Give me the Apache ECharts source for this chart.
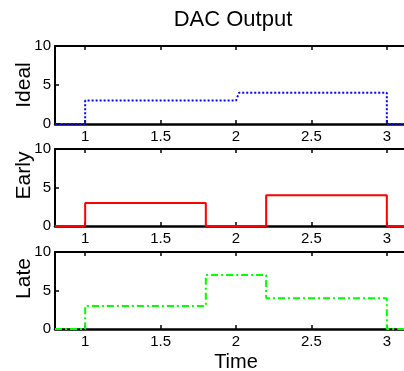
<!DOCTYPE html>
<html>
<head>
<meta charset="utf-8">
<script src="https://cdn.jsdelivr.net/npm/echarts@6/dist/echarts.min.js"></script>
<style>
  html, body {margin: 0; padding: 0; background: #fff;}
  #chart {width: 404px; height: 371px;}
</style>
</head>
<body>
<div id="chart"></div>
<script>
// step outputs of the DAC, as corner points
const idealTime = [0.8, 1, 1, 2, 2.02, 3, 3, 3.2]
const idealValue = [0, 0, 3, 3, 4, 4, 0, 0]
const earlyTime = [0.8, 1, 1, 1.8, 1.8, 2.2, 2.2, 3, 3, 3.2]
const earlyValue = [0, 0, 3, 3, 0, 0, 4, 4, 0, 0]
const lateTime = [0.8, 1, 1, 1.8, 1.8, 2.2, 2.2, 3, 3, 3.2]
const lateValue = [0, 0, 3, 3, 7, 7, 4, 4, 0, 0]
const xTicks = [1, 1.5, 2, 2.5, 3]
const yTicks = [0, 5, 10]
const panelNames = ['Ideal', 'Early', 'Late']

const font = 'Liberation Sans, Arial, Helvetica, sans-serif'
const grids = [
  {left: 55, top: 46, width: 362, height: 78, outerBoundsMode: 'none', containLabel: false},
  {left: 55, top: 149, width: 362, height: 77, outerBoundsMode: 'none', containLabel: false},
  {left: 55, top: 252, width: 362, height: 77, outerBoundsMode: 'none', containLabel: false},
]

const zip = (xs, ys) => xs.map((x, i) => [x, ys[i]])

const xAxes = []
const yAxes = []
grids.forEach((g, i) => {
  const isLast = i === grids.length - 1
  xAxes.push({
    type: 'value', gridIndex: i, position: 'bottom', min: 0.8, max: 3.2,
    axisLine: {onZero: false, lineStyle: {color: '#000', width: 2.5}},
    axisTick: {inside: true, length: 4, customValues: xTicks, lineStyle: {color: '#000', width: 1.5}},
    axisLabel: {customValues: xTicks, color: '#000', fontSize: 15, fontFamily: font, margin: 5},
    splitLine: {show: false},
    name: isLast ? 'Time' : '',
    nameLocation: 'middle', nameGap: 23, nameMoveOverlap: false,
    nameTextStyle: {color: '#000', fontSize: 20, fontFamily: font},
  })
  xAxes.push({
    type: 'value', gridIndex: i, position: 'top', min: 0.8, max: 3.2,
    axisLine: {onZero: false, lineStyle: {color: '#000', width: 2}},
    axisTick: {inside: true, length: 4, customValues: xTicks, lineStyle: {color: '#000', width: 1.5}},
    axisLabel: {show: false},
    splitLine: {show: false},
  })
  yAxes.push({
    type: 'value', gridIndex: i, position: 'left', min: 0, max: 10,
    axisLine: {show: true, onZero: false, lineStyle: {color: '#000', width: 2}},
    axisTick: {show: true, inside: true, length: 4, customValues: yTicks, lineStyle: {color: '#000', width: 1.5}},
    axisLabel: {customValues: yTicks, color: '#000', fontSize: 15, fontFamily: font, margin: 4},
    splitLine: {show: false},
    name: panelNames[i],
    nameLocation: 'middle', nameGap: 20, nameRotate: 90, nameMoveOverlap: false,
    nameTextStyle: {color: '#000', fontSize: 21, fontFamily: font, padding: i === 0 ? 0 : [0, 0, 0, 24]},
  })
  yAxes.push({
    type: 'value', gridIndex: i, position: 'right', min: 0, max: 10,
    axisLine: {show: true, onZero: false, lineStyle: {color: '#000', width: 2}},
    axisTick: {show: false},
    axisLabel: {show: false},
    splitLine: {show: false},
  })
})

const lineSeries = (idx, data, color, type) => ({
  type: 'line', xAxisIndex: idx * 2, yAxisIndex: idx * 2,
  data, symbol: 'none', silent: true, animation: false,
  lineStyle: {color, width: 2, type},
  z: 3,
})

const chart = echarts.init(document.getElementById('chart'))
chart.setOption({
  backgroundColor: '#fff',
  animation: false,
  title: {
    text: 'DAC Output', left: 228, top: 4, textAlign: 'center',
    textStyle: {color: '#000', fontSize: 22, fontWeight: 'normal', fontFamily: font},
  },
  grid: grids,
  xAxis: xAxes,
  yAxis: yAxes,
  series: [
    lineSeries(0, zip(idealTime, idealValue), '#0000ff', [2, 2]),
    lineSeries(1, zip(earlyTime, earlyValue), '#ff0000', 'solid'),
    lineSeries(2, zip(lateTime, lateValue), '#00ff00', [7, 3, 2, 3]),
  ],
})
</script>
</body>
</html>
